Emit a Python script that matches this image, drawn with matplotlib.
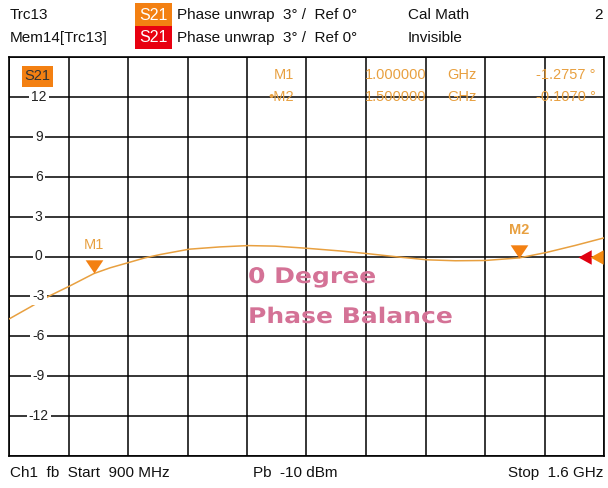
import matplotlib
matplotlib.use("Agg")
import matplotlib.pyplot as plt
from matplotlib.path import Path
from matplotlib.markers import MarkerStyle
from matplotlib.patches import Rectangle, PathPatch
from matplotlib.textpath import TextPath
from matplotlib.font_manager import FontProperties
from matplotlib.transforms import Affine2D, IdentityTransform

# Trace data (frequency in GHz, unwrapped phase in degrees)
freq_ghz = [0.900, 0.925, 0.948, 0.972, 1.000, 1.019, 1.041, 1.060, 1.078, 1.112,
            1.148, 1.181, 1.213, 1.250, 1.289, 1.321, 1.360, 1.392, 1.425, 1.460,
            1.500, 1.532, 1.566, 1.600]
phase_deg = [-4.7, -3.8, -2.95, -2.2, -1.28, -0.85, -0.45, -0.1, 0.15, 0.55,
             0.72, 0.82, 0.78, 0.62, 0.42, 0.22, -0.05, -0.25, -0.32, -0.3,
             -0.107, 0.3, 0.83, 1.4]

# Markers
marker_names = ["M1", "M2"]
marker_freq = [1.0, 1.5]
marker_phase = [-1.2757, -0.1070]

y_ticks = [-15, -12, -9, -6, -3, 0, 3, 6, 9, 12, 15]
tick_labels = [12, 9, 6, 3, 0, -3, -6, -9, -12]

trace_col = "#E8A040"
marker_col = "#F38012"
text_font = "Liberation Sans"

W, H = 608, 488
fig = plt.figure(figsize=(W / 100, H / 100), dpi=100)
ax = fig.add_axes([9 / W, (H - 456) / H, 595 / W, 399 / H])

ax.plot(freq_ghz, phase_deg, color=trace_col, lw=1.1, zorder=3)
ax.set_xlim(0.9, 1.6)
ax.set_ylim(-15, 15)
ax.set_xticks([0.9 + 0.07 * i for i in range(11)])
ax.set_yticks(y_ticks)
ax.tick_params(length=0, labelbottom=False, labelleft=False)
ax.grid(True, color="black", lw=1.1, zorder=1)
for s in ax.spines.values():
    s.set_linewidth(1.2)

# y labels drawn inside the grid
for v in tick_labels:
    ax.text(0.05, v, str(v), transform=ax.get_yaxis_transform(), ha="center", va="center",
            fontsize=10, family=text_font, color="#222222", zorder=4,
            bbox=dict(boxstyle="square,pad=0.15", fc="white", ec="none"))

# marker triangles with tip on the trace
tri_down = MarkerStyle(Path([(-0.67, 1), (0.67, 1), (0, 0), (-0.67, 1)]))
for name, f, p in zip(marker_names, marker_freq, marker_phase):
    ax.plot([f], [p], marker=tri_down, ms=19, color=marker_col, mec="none", zorder=5)
    ax.annotate(name, (f, p), xytext=(0, 21), textcoords="offset pixels", ha="center",
                va="bottom", fontsize=10.5, family=text_font, color=trace_col,
                fontweight="bold" if name == "M2" else "normal", zorder=5)

# reference level arrows at right edge
tri_left = MarkerStyle(Path([(0, 0), (1, 0.55), (1, -0.55), (0, 0)]))
ax.plot([0.956], [0], marker=tri_left, ms=19, color="#E00010", mec="none",
        transform=ax.get_yaxis_transform(), clip_on=False, zorder=6)
ax.plot([0.976], [0], marker=tri_left, ms=19, color="#F58A10", mec="none",
        transform=ax.get_yaxis_transform(), clip_on=False, zorder=6)

# annotation text (wide bold lettering, stretched horizontally)
bold = FontProperties(family="DejaVu Sans", weight="bold")
for s, ypix in (("0 Degree", 283), ("Phase Balance", 323)):
    tp = TextPath((0, 0), s, size=21.5, prop=bold)
    tr = Affine2D().scale(1.165, 1.0).translate(248, H - ypix) + IdentityTransform()
    fig.patches.append(PathPatch(tp, transform=tr, fc="#D47296", ec="none", zorder=4))

# S21 tag inside the diagram
fig.patches.append(Rectangle((22, H - 87), 31, 21, transform=IdentityTransform(),
                             fc="#F38012", ec="none", zorder=5))
fig.text(37.5 / W, 1 - 76.5 / H, "S21", ha="center", va="center", fontsize=10.5,
         family=text_font, color="#333333", zorder=6)

# marker readout table
rows_y = [75, 97]
m_labels = ["M1", "\u2022M2"]
m_freq_txt = ["1.000000", "1.500000"]
m_val_txt = ["-1.2757 \u00b0", "-0.1070 \u00b0"]
for y, lab, ft, vt in zip(rows_y, m_labels, m_freq_txt, m_val_txt):
    fig.text(294 / W, 1 - y / H, lab, ha="right", va="center", fontsize=10.5,
             family=text_font, color=trace_col)
    fig.text(426 / W, 1 - y / H, ft, ha="right", va="center", fontsize=10.5,
             family=text_font, color=trace_col)
    fig.text(447 / W, 1 - y / H, "GHz", ha="left", va="center", fontsize=10.5,
             family=text_font, color=trace_col)
    fig.text(596 / W, 1 - y / H, vt, ha="right", va="center", fontsize=10.5,
             family=text_font, color=trace_col)

# header
hdr = dict(fontsize=11, family=text_font, color="#111111", va="center")
fig.text(10 / W, 1 - 15 / H, "Trc13", ha="left", **hdr)
fig.text(10 / W, 1 - 38 / H, "Mem14[Trc13]", ha="left", **hdr)
for ytop, col, yc in ((3, "#F38012", 15), (26, "#E80010", 38)):
    fig.patches.append(Rectangle((135, H - ytop - 23), 37, 23, transform=IdentityTransform(),
                                 fc=col, ec="none"))
    fig.text(153.5 / W, 1 - yc / H, "S21", ha="center", fontsize=11.5, family=text_font,
             color="white", va="center")
for y in (15, 38):
    fig.text(177 / W, 1 - y / H, "Phase unwrap  3\u00b0 /  Ref 0\u00b0", ha="left", **hdr)
fig.text(408 / W, 1 - 15 / H, "Cal Math", ha="left", **hdr)
fig.text(408 / W, 1 - 38 / H, "Invisible", ha="left", **hdr)
fig.text(603 / W, 1 - 15 / H, "2", ha="right", **hdr)

# footer
fig.text(10 / W, 1 - 473 / H, "Ch1  fb  Start  900 MHz", ha="left", **hdr)
fig.text(253 / W, 1 - 473 / H, "Pb  -10 dBm", ha="left", **hdr)
fig.text(603 / W, 1 - 473 / H, "Stop  1.6 GHz", ha="right", **hdr)

fig.savefig("out.png", dpi=100)
